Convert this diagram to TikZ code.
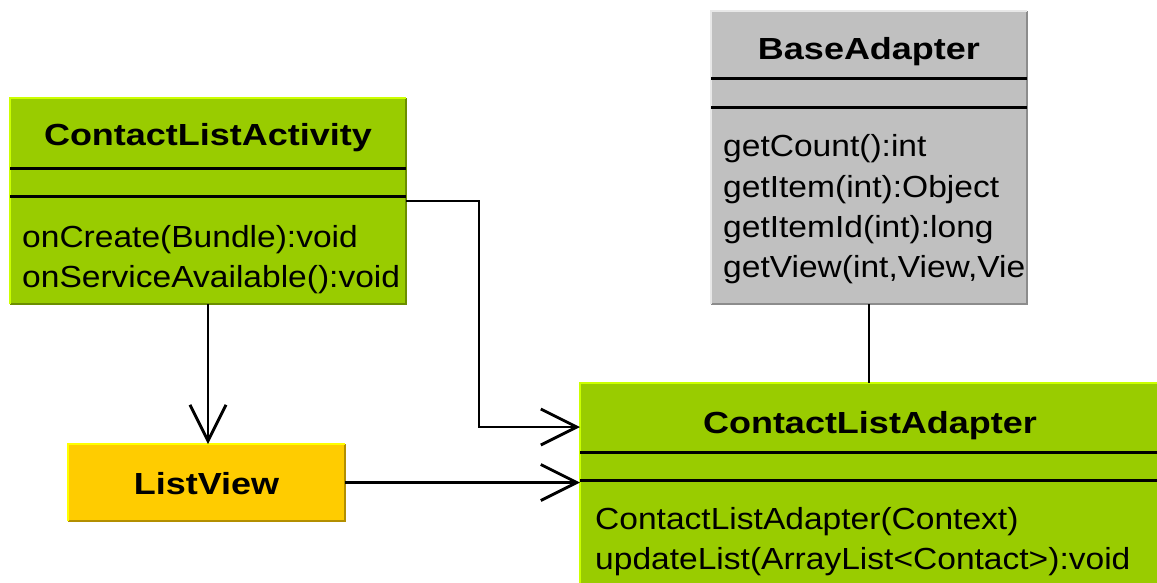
\documentclass[tikz,border=0pt]{standalone}
\usepackage{fontspec}
\setmainfont{Liberation Sans}
\newfontfamily\titlefont[FakeStretch=1.18]{Liberation Sans Bold}
\newfontfamily\methfont[FakeStretch=1.10]{Liberation Sans}
\usetikzlibrary{arrows.meta}
\definecolor{cgreen}{HTML}{99CC00}
\definecolor{cgreenhi}{HTML}{CCFF00}
\definecolor{cgreenlo}{HTML}{6B8E00}
\definecolor{cyellow}{HTML}{FFCC00}
\definecolor{cyellowhi}{HTML}{FFFF00}
\definecolor{cyellowlo}{HTML}{B38F00}
\definecolor{cgray}{HTML}{C0C0C0}
\definecolor{cgrayhi}{HTML}{E8E8E8}
\definecolor{cgraylo}{HTML}{8C8C8C}
\tikzset{
  box/.style={draw=none, inner sep=0pt, outer sep=0pt},
  sep/.style={line width=3pt},
  ttl/.style={inner sep=0pt, anchor=base, font=\titlefont\fontsize{30.5}{36}\selectfont},
  meth/.style={inner sep=0pt, anchor=base west, font=\methfont\fontsize{30.5}{36}\selectfont},
  conn/.style={line width=2.9pt},
  dep/.style={conn, -{Straight Barb[length=36pt,width=36pt,line width=2.9pt]}},
}
\begin{document}
\begin{tikzpicture}[x=1pt,y=-1pt]
\useasboundingbox (0,0) rectangle (1157,582);
\begin{scope}
\clip (0,0) rectangle (1157,582);

% ContactListActivity
\path[fill=cgreen] (10,98) rectangle (406,304);
\node[box, minimum width=396pt, minimum height=206pt] (cla) at (208,201) {};
\draw[line width=2pt,cgreenlo] (cla.south west) -- (cla.south east) -- (cla.north east);
\draw[line width=2pt,cgreenhi] (cla.south west) -- (cla.north west) -- (cla.north east);
\draw[sep] (cla.west |- 0,168) -- (cla.east |- 0,168);
\draw[sep] (cla.west |- 0,196) -- (cla.east |- 0,196);
\node[ttl] (claT) at (208,145) {ContactListActivity};
\node[meth] (claM1) at (22,247) {onCreate(Bundle):void};
\node[meth] (claM2) at (22,287) {onServiceAvailable():void};

% BaseAdapter
\path[fill=cgray] (711,11) rectangle (1027,304);
\node[box, minimum width=316pt, minimum height=293pt] (ba) at (869,157.5) {};
\draw[line width=2pt,cgraylo] (ba.south west) -- (ba.south east) -- (ba.north east);
\draw[line width=2pt,cgrayhi] (ba.south west) -- (ba.north west) -- (ba.north east);
\draw[sep] (ba.west |- 0,78) -- (ba.east |- 0,78);
\draw[sep] (ba.west |- 0,107) -- (ba.east |- 0,107);
\node[ttl] (baT) at (869,59) {BaseAdapter};
\node[meth] (baM1) at (723,156) {getCount():int};
\node[meth] (baM2) at (723,197) {getItem(int):Object};
\node[meth] (baM3) at (723,237) {getItemId(int):long};
\node[meth] (baM4) at (723,277) {getView(int,View,Vie};

% ContactListAdapter
\path[fill=cgreen] (580,383) rectangle (1180,620);
\node[box, minimum width=600pt, minimum height=237pt] (cad) at (880,501.5) {};
\draw[line width=2pt,cgreenhi] (cad.south west) -- (cad.north west) -- (cad.north east);
\draw[sep] (cad.west |- 0,452) -- (cad.east |- 0,452);
\draw[sep] (cad.west |- 0,480) -- (cad.east |- 0,480);
\node[ttl] (cadT) at (870,433) {ContactListAdapter};
\node[meth] (cadM1) at (595,529) {ContactListAdapter(Context)};
\node[meth] (cadM2) at (595,569) {updateList(ArrayList<Contact>):void};

% ListView
\path[fill=cyellow] (68,444) rectangle (345,521);
\node[box, minimum width=277pt, minimum height=77pt] (lv) at (206.5,482.5) {};
\draw[line width=2pt,cyellowlo] (lv.south west) -- (lv.south east) -- (lv.north east);
\draw[line width=2pt,cyellowhi] (lv.south west) -- (lv.north west) -- (lv.north east);
\node[ttl] (lvT) at (206.5,494) {ListView};

% connectors
\draw[dep] (cla.south -| 208,0) -- (lv.north -| 208,0);
\coordinate (c1) at (479,201);
\coordinate (c2) at (479,427);
\draw[dep] (cla.east |- c1) -- (c1) -- (c2) -- (cad.west |- c2);
\draw[dep] (lv.east) -- (cad.west |- lv.east);
\draw[conn] (ba.south) -- (cad.north -| ba.south);
\end{scope}
\end{tikzpicture}
\end{document}
